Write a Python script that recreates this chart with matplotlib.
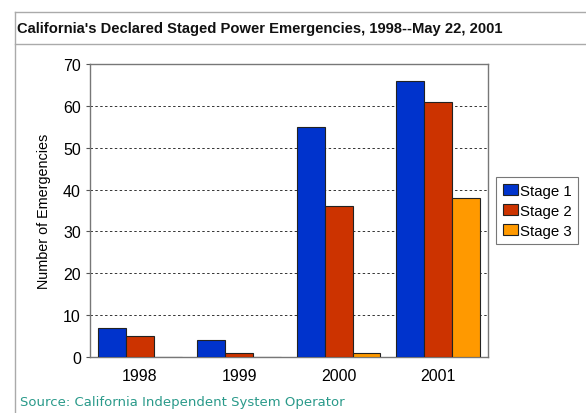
import numpy as np
import matplotlib.pyplot as plt
from matplotlib.lines import Line2D

# Data
years = ["1998", "1999", "2000", "2001"]
stage1 = [7, 4, 55, 66]
stage2 = [5, 1, 36, 61]
stage3 = [0, 0, 1, 38]
labels = ["Stage 1", "Stage 2", "Stage 3"]
colors = ["#0033CC", "#CC3300", "#FF9900"]

plt.rcParams['font.family'] = ['Liberation Sans', 'DejaVu Sans']

fig = plt.figure(figsize=(5.86, 4.14), dpi=100)
ax = fig.add_axes([0.1536, 0.135, 0.679, 0.708])

x = np.arange(len(years))
w = 0.28
for i, (vals, lab, col) in enumerate(zip([stage1, stage2, stage3], labels, colors)):
    ax.bar(x + (i - 1) * w, vals, w, color=col, edgecolor="#222222",
           linewidth=0.8, label=lab, zorder=3)

ax.set_xlim(-0.5, 3.5)
ax.set_ylim(0, 70)
ax.set_yticks(range(0, 71, 10))
ax.set_xticks(x)
ax.set_xticklabels(years)
ax.tick_params(axis="both", labelsize=11.5, length=3, color="#555555")
ax.tick_params(axis="x", length=0, pad=8)
ax.set_ylabel("Number of Emergencies", fontsize=10.4, labelpad=9)
for y in range(10, 70, 10):
    ax.axhline(y, color="#333333", linestyle=(0, (2.5, 2.5)), linewidth=0.7, zorder=1)
for s in ax.spines.values():
    s.set_color("#777777")
    s.set_linewidth(1.0)

leg = ax.legend(loc="center left", bbox_to_anchor=(1.02, 0.5), fontsize=10.8,
                frameon=True, fancybox=False, edgecolor="#555555",
                handlelength=1.0, handleheight=0.7, handletextpad=0.15,
                borderpad=0.45, labelspacing=0.4, borderaxespad=0)
leg.get_frame().set_linewidth(0.8)

# Title box lines
fig.add_artist(Line2D([15/586, 1], [1 - 13/414, 1 - 13/414], color="#AAAAAA", lw=1))
fig.add_artist(Line2D([15/586, 1], [1 - 45/414, 1 - 45/414], color="#AAAAAA", lw=1))
fig.add_artist(Line2D([15/586, 15/586], [1 - 13/414, 0], color="#AAAAAA", lw=1))

fig.text(17/586, 1 - 29/414, "California's Declared Staged Power Emergencies, 1998--May 22, 2001",
         fontsize=10.6, fontweight="bold", va="center", ha="left", color="#111111")
fig.text(20/586, 1 - 403/414, "Source: California Independent System Operator",
         fontsize=9.5, va="center", ha="left", color="#2A9A8A", family="DejaVu Sans")

fig.savefig("out.png", dpi=100)
